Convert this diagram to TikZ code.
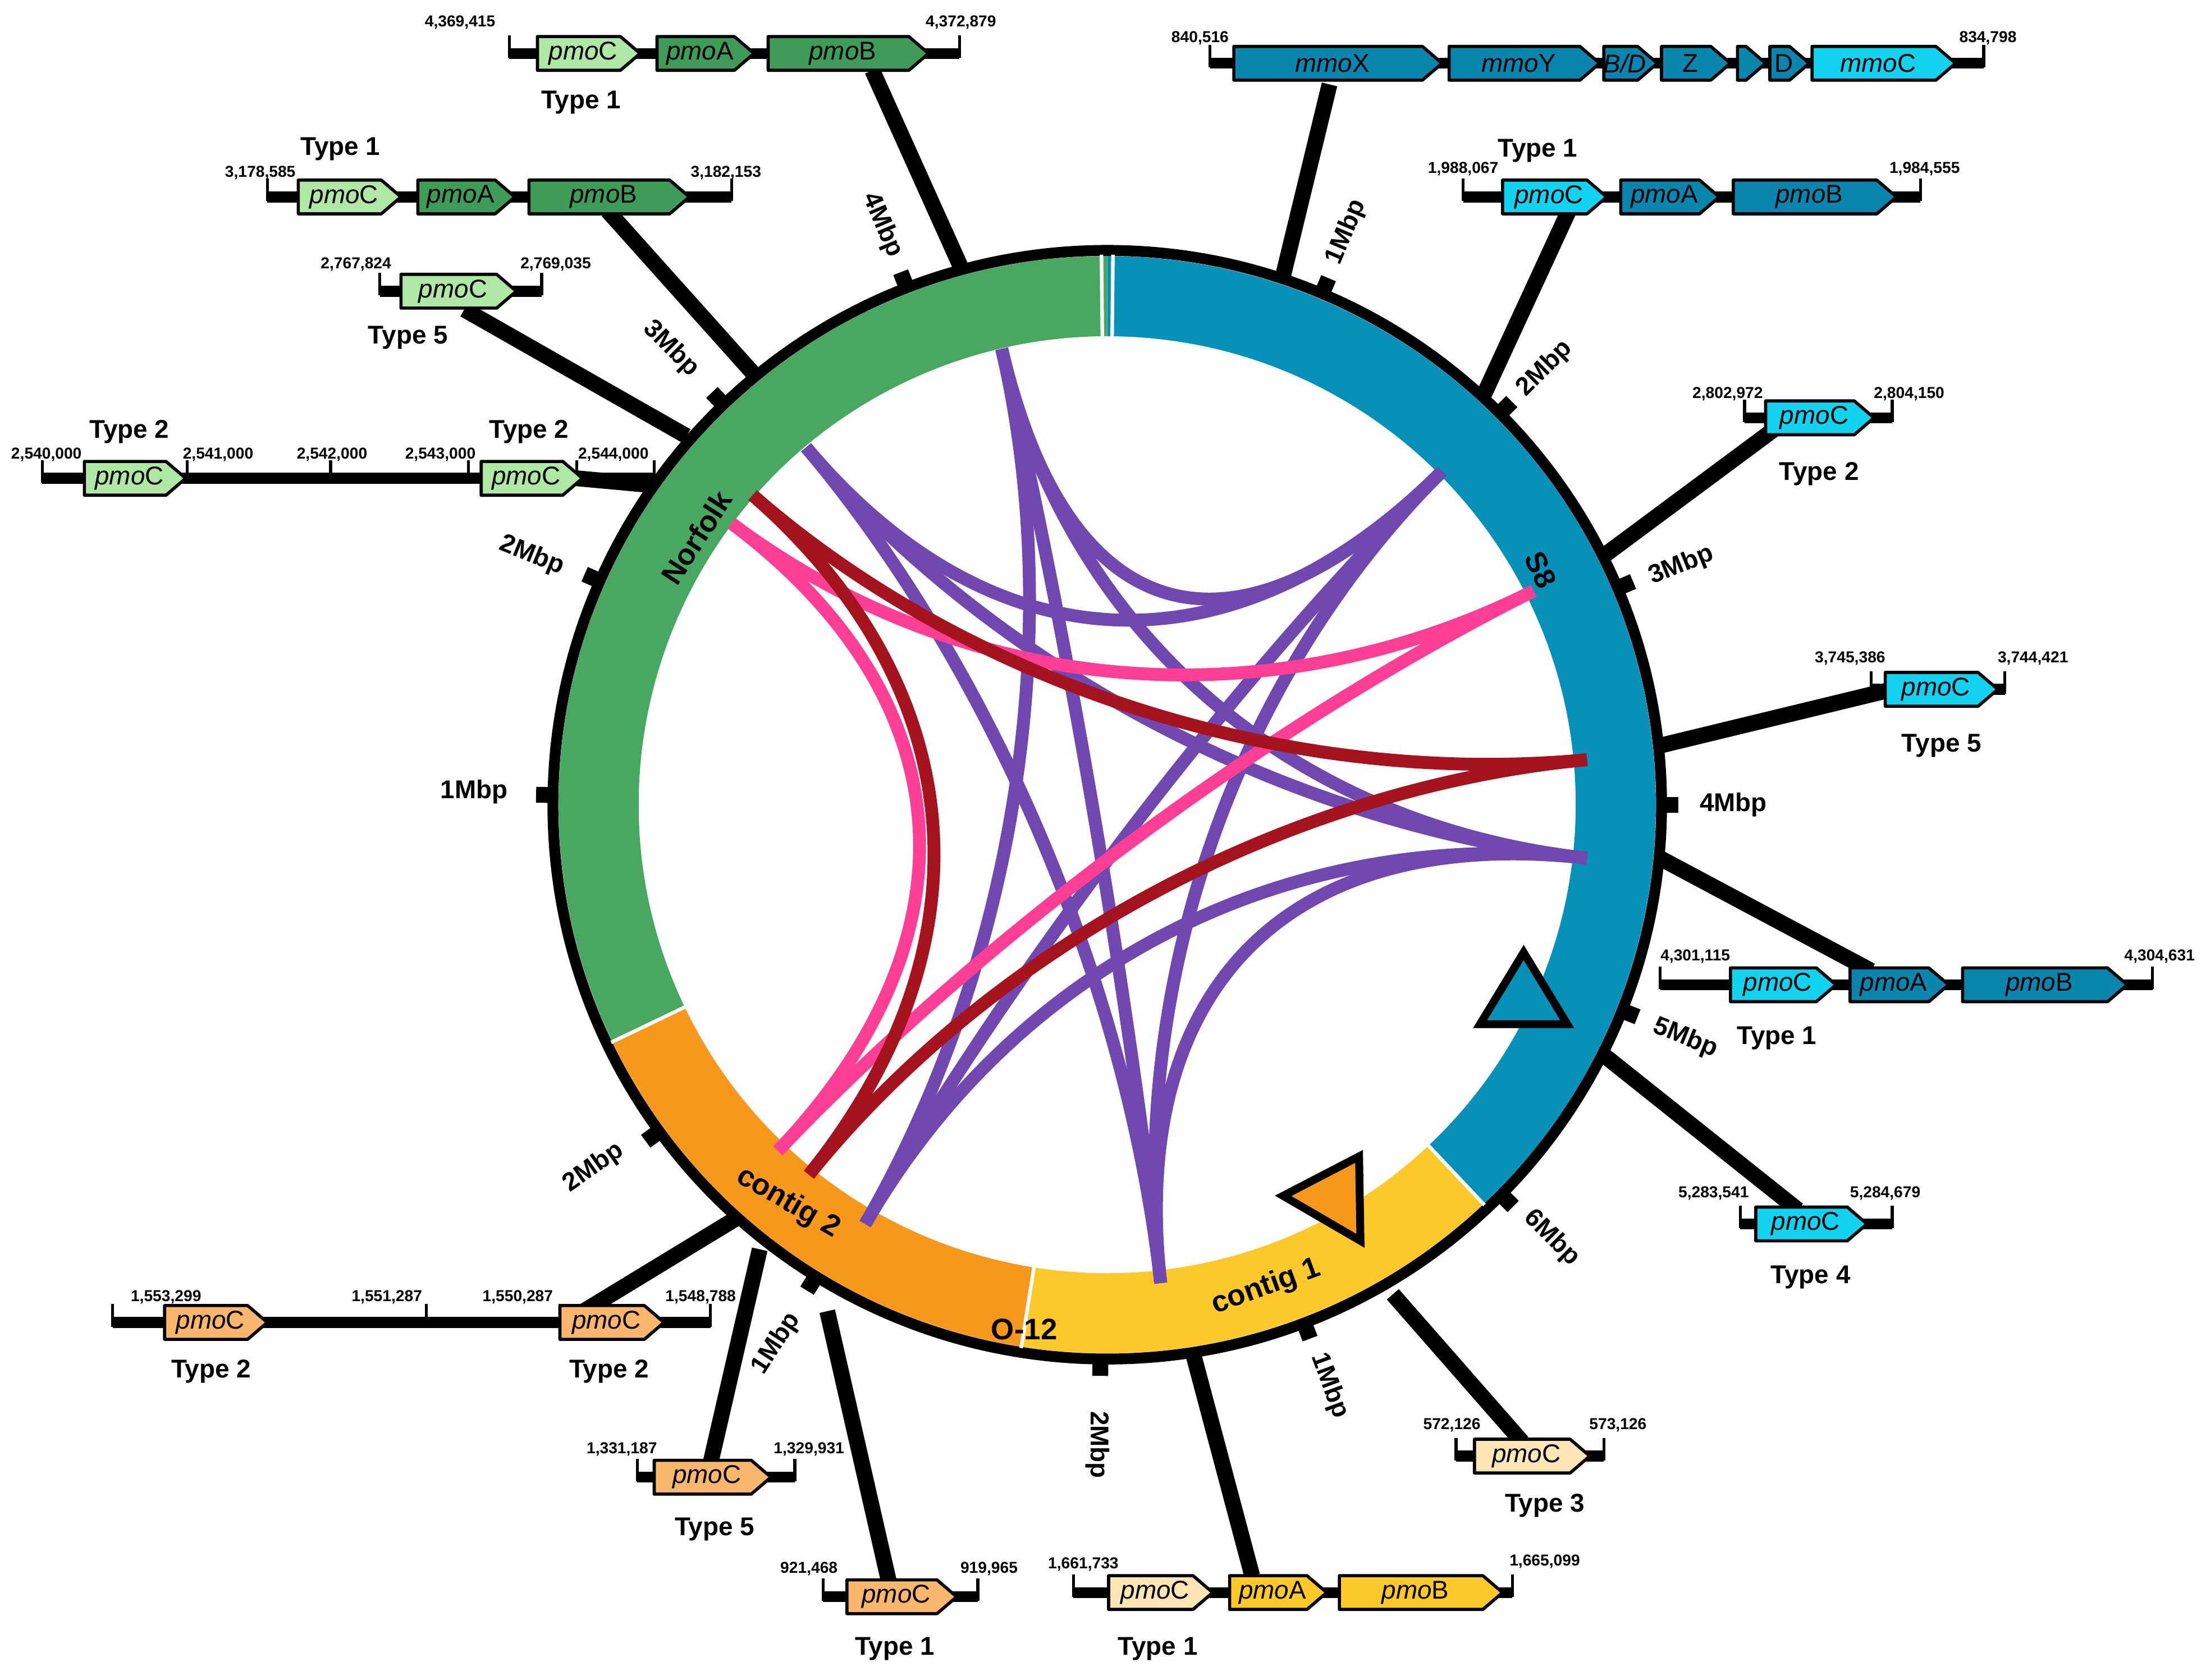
\documentclass[tikz,border=0pt]{standalone}
\usepackage{fontspec}
\setmainfont{Liberation Sans}
\usetikzlibrary{calc}
\begin{document}
\begin{tikzpicture}[x=0.025cm,y=-0.025cm,
 lab/.style={font=\bfseries\fontsize{13}{13}\selectfont},
 coord/.style={font=\bfseries\fontsize{8}{8}\selectfont},
 mb/.style={font=\bfseries\fontsize{13}{13}\selectfont},
 ring/.style={font=\bfseries\fontsize{15}{15}\selectfont},
 spoke/.style={line width=8pt},
 chord/.style={line width=6.5pt},
]
\definecolor{sblue}{HTML}{0790B8}
\definecolor{dblue}{HTML}{0A86AE}
\definecolor{cyan}{HTML}{12D2F0}
\definecolor{ngreen}{HTML}{48A862}
\definecolor{dgreen}{HTML}{3E9C58}
\definecolor{lgreen}{HTML}{AEE8A4}
\definecolor{corange}{HTML}{F7981D}
\definecolor{cyellow}{HTML}{FDC92A}
\definecolor{lorange}{HTML}{F9B66C}
\definecolor{pale}{HTML}{FDE5B5}
\definecolor{purp}{HTML}{7048B0}
\definecolor{pink}{HTML}{FF3E96}
\definecolor{dred}{HTML}{A5141E}
\useasboundingbox (0,0) rectangle (1568,1194);
\fill[white] (0,0) rectangle (1568,1194);
\newcommand\seg[3]{\fill[#3] (#1:333) arc[start angle=#1,end angle=#2,radius=333] -- (#2:390) arc[start angle=#2,end angle=#1,radius=390] -- cycle;}
\newcommand\gn[5]{\draw[line width=1.6pt,fill=#4,line join=round] (#1,#3-12)--(#2-14,#3-12)--(#2,#3)--(#2-14,#3+12)--(#1,#3+12)--cycle;
 \node[font=\fontsize{13}{13}\selectfont] at ({(#1+#2)/2-4},#3) {#5};}
\newcommand\bb[3]{\draw[line width=5.5pt] (#1,#3)--(#2,#3); \draw[line width=1.5pt] (#1,#3+3)--(#1,#3-13) (#2,#3+3)--(#2,#3-13);}
\newcommand\tk[2]{\draw[line width=1.5pt] (#1,#2+3)--(#1,#2-13);}
% spokes
\begin{scope}[spoke]
\draw (683,190)--(620,50); \draw (535,265)--(432,150); \draw (488,310)--(330,220);
\draw (465,345)--(410,340); \draw (912,196)--(945,60); \draw (1055,280)--(1115,150);
\draw (1140,395)--(1268,300); \draw (1180,530)--(1345,490); \draw (1180,610)--(1330,690);
\draw (1140,750)--(1278,860); \draw (990,920)--(1082,1025); \draw (848,962)--(890,1120);
\draw (588,932)--(632,1125); \draw (540,888)--(505,1040); \draw (525,865)--(410,935);
\end{scope}
\begin{scope}[shift={(787,572)}]
\seg{-90}{46.7}{sblue}
\seg{46.7}{99}{cyellow}
\seg{99}{154.4}{corange}
\seg{154.4}{270}{ngreen}
\draw[line width=5.5pt] (0,0) circle[radius=394];
\foreach \a in {-90.6,-89.4,46.7,99,154.4} \draw[white,line width=1.8pt] (\a:331)--(\a:391);
\foreach \a in {-67.2,-44.9,-23,0,21.8,44.7,69.2,90.7,121.7,143.9,181,203.8,226.2,248.8}
  \draw[line width=8pt] (\a:395)--(\a:406);
\end{scope}
% chords
\coordinate (C) at (787,572);
\coordinate (P1) at (712,248); \coordinate (P2) at (573,318); \coordinate (P3) at (1025,335);
\coordinate (P4) at (1128,610); \coordinate (P5) at (825,912); \coordinate (P6) at (615,870);
\coordinate (N1) at (520,372); \coordinate (S1) at (1090,420); \coordinate (K1) at (553,818);
\coordinate (N2) at (535,352); \coordinate (S2) at (1128,540); \coordinate (K2) at (575,835);
\newcommand\ch[3]{\draw[chord,#3] (#1) .. controls ($(#1)!0.62!(C)$) and ($(#2)!0.62!(C)$) .. (#2);}
\ch{P1}{P3}{purp} \ch{P1}{P4}{purp} \ch{P1}{P5}{purp} \ch{P1}{P6}{purp}
\ch{P2}{P3}{purp} \ch{P2}{P4}{purp} \ch{P2}{P5}{purp}
\ch{P3}{P6}{purp} \ch{P3}{P5}{purp} \ch{P4}{P5}{purp} \ch{P4}{P6}{purp}
\ch{N1}{S1}{pink} \ch{K1}{S1}{pink} \ch{N1}{K1}{pink}
\ch{N2}{S2}{dred} \ch{K2}{S2}{dred} \ch{N2}{K2}{dred}
% ring labels
\node[ring,rotate=-65] at (1095,405) {S8};
\node[ring,rotate=57] at (495,382) {Norfolk};
\node[ring,rotate=-30] at (560,855) {contig 2};
\node[ring,rotate=20] at (900,915) {contig 1};
\node[ring] at (728,945) {O-12};
% Mbp labels
\node[mb,rotate=67] at (957,165) {1Mbp}; \node[mb,rotate=45] at (1098,262) {2Mbp};
\node[mb,rotate=22] at (1195,402) {3Mbp}; \node[mb] at (1232,572) {4Mbp};
\node[mb,rotate=-22] at (1198,738) {5Mbp}; \node[mb,rotate=-45] at (1103,880) {6Mbp};
\node[mb,rotate=-70] at (945,985) {1Mbp}; \node[mb,rotate=-90] at (780,1027) {2Mbp};
\node[mb,rotate=57] at (552,955) {1Mbp}; \node[mb,rotate=35] at (422,830) {2Mbp};
\node[mb] at (337,563) {1Mbp}; \node[mb,rotate=-22] at (378,395) {2Mbp};
\node[mb,rotate=-45] at (477,248) {3Mbp}; \node[mb,rotate=-67] at (627,160) {4Mbp};
% triangles
\draw[line width=4pt,fill=sblue,line join=miter] (1052,728)--(1114,728)--(1083,677)--cycle;
\draw[line width=4pt,fill=corange,line join=miter] (912,850)--(966,822)--(967,882)--cycle;
% Cluster A
\bb{362}{682}{38}
\gn{382}{455}{38}{lgreen}{\textit{pmo}C}\gn{467}{536}{38}{dgreen}{\textit{pmo}A}\gn{546}{660}{38}{dgreen}{\textit{pmo}B}
\node[coord] at (327,16) {4,369,415}; \node[coord] at (683,16) {4,372,879}; \node[lab] at (413,73) {Type 1};
% B
\bb{190}{520}{140}
\gn{212}{285}{140}{lgreen}{\textit{pmo}C}\gn{297}{366}{140}{dgreen}{\textit{pmo}A}\gn{376}{490}{140}{dgreen}{\textit{pmo}B}
\node[coord] at (185,123) {3,178,585}; \node[coord] at (516,123) {3,182,153}; \node[lab] at (242,106) {Type 1};
% C
\bb{270}{385}{207}\gn{285}{367}{207}{lgreen}{\textit{pmo}C}
\node[coord] at (253,188) {2,767,824}; \node[coord] at (395,188) {2,769,035}; \node[lab] at (290,240) {Type 5};
% D
\bb{30}{465}{340}\tk{133}{340}\tk{235}{340}\tk{333}{340}\tk{410}{340}
\gn{60}{132}{340}{lgreen}{\textit{pmo}C}\gn{342}{414}{340}{lgreen}{\textit{pmo}C}
\node[coord] at (33,323) {2,540,000}; \node[coord] at (155,323) {2,541,000}; \node[coord] at (236,323) {2,542,000};
\node[coord] at (313,323) {2,543,000}; \node[coord] at (436,323) {2,544,000};
\node[lab] at (92,307) {Type 2}; \node[lab] at (376,307) {Type 2};
% E
\bb{860}{1410}{45}
\gn{877}{1025}{45}{dblue}{\textit{mmo}X}\gn{1030}{1137}{45}{dblue}{\textit{mmo}Y}
\gn{1140}{1178}{45}{dblue}{\textit{B/D}}\gn{1181}{1230}{45}{dblue}{Z}
\gn{1235}{1255}{45}{dblue}{}\gn{1258}{1286}{45}{dblue}{D}\gn{1288}{1390}{45}{cyan}{\textit{mmo}C}
\node[coord] at (853,27) {840,516}; \node[coord] at (1413,27) {834,798};
% F
\bb{1040}{1365}{140}
\gn{1068}{1142}{140}{cyan}{\textit{pmo}C}\gn{1152}{1222}{140}{dblue}{\textit{pmo}A}\gn{1232}{1348}{140}{dblue}{\textit{pmo}B}
\node[coord] at (1040,120) {1,988,067}; \node[coord] at (1368,120) {1,984,555}; \node[lab] at (1093,107) {Type 1};
% G
\bb{1240}{1345}{297}\gn{1255}{1332}{297}{cyan}{\textit{pmo}C}
\node[coord] at (1228,280) {2,802,972}; \node[coord] at (1357,280) {2,804,150}; \node[lab] at (1293,337) {Type 2};
% H
\bb{1330}{1425}{490}\gn{1340}{1420}{490}{cyan}{\textit{pmo}C}
\node[coord] at (1315,468) {3,745,386}; \node[coord] at (1445,468) {3,744,421}; \node[lab] at (1380,530) {Type 5};
% I
\bb{1180}{1530}{700}
\gn{1230}{1305}{700}{cyan}{\textit{pmo}C}\gn{1315}{1385}{700}{dblue}{\textit{pmo}A}\gn{1395}{1512}{700}{dblue}{\textit{pmo}B}
\node[coord] at (1205,680) {4,301,115}; \node[coord] at (1535,680) {4,304,631}; \node[lab] at (1263,738) {Type 1};
% J
\bb{1237}{1345}{870}\gn{1248}{1327}{870}{cyan}{\textit{pmo}C}
\node[coord] at (1218,848) {5,283,541}; \node[coord] at (1340,848) {5,284,679}; \node[lab] at (1287,908) {Type 4};
% K
\bb{1035}{1140}{1035}\gn{1048}{1130}{1035}{pale}{\textit{pmo}C}
\node[coord] at (1032,1013) {572,126}; \node[coord] at (1150,1013) {573,126}; \node[lab] at (1098,1070) {Type 3};
% L
\bb{763}{1075}{1132}
\gn{788}{862}{1132}{pale}{\textit{pmo}C}\gn{874}{943}{1132}{cyellow}{\textit{pmo}A}\gn{952}{1068}{1132}{cyellow}{\textit{pmo}B}
\node[coord] at (770,1112) {1,661,733}; \node[coord] at (1098,1110) {1,665,099}; \node[lab] at (823,1172) {Type 1};
% M
\bb{585}{695}{1135}\gn{602}{680}{1135}{lorange}{\textit{pmo}C}
\node[coord] at (575,1115) {921,468}; \node[coord] at (703,1115) {919,965}; \node[lab] at (636,1172) {Type 1};
% N
\bb{453}{565}{1050}\gn{465}{548}{1050}{lorange}{\textit{pmo}C}
\node[coord] at (442,1030) {1,331,187}; \node[coord] at (575,1030) {1,329,931}; \node[lab] at (508,1087) {Type 5};
% O
\bb{80}{505}{940}\tk{303}{940}\tk{398}{940}
\gn{117}{190}{940}{lorange}{\textit{pmo}C}\gn{398}{472}{940}{lorange}{\textit{pmo}C}
\node[coord] at (118,922) {1,553,299}; \node[coord] at (275,922) {1,551,287}; \node[coord] at (368,922) {1,550,287};
\node[coord] at (498,922) {1,548,788};
\node[lab] at (150,975) {Type 2}; \node[lab] at (433,975) {Type 2};
\end{tikzpicture}
\end{document}
